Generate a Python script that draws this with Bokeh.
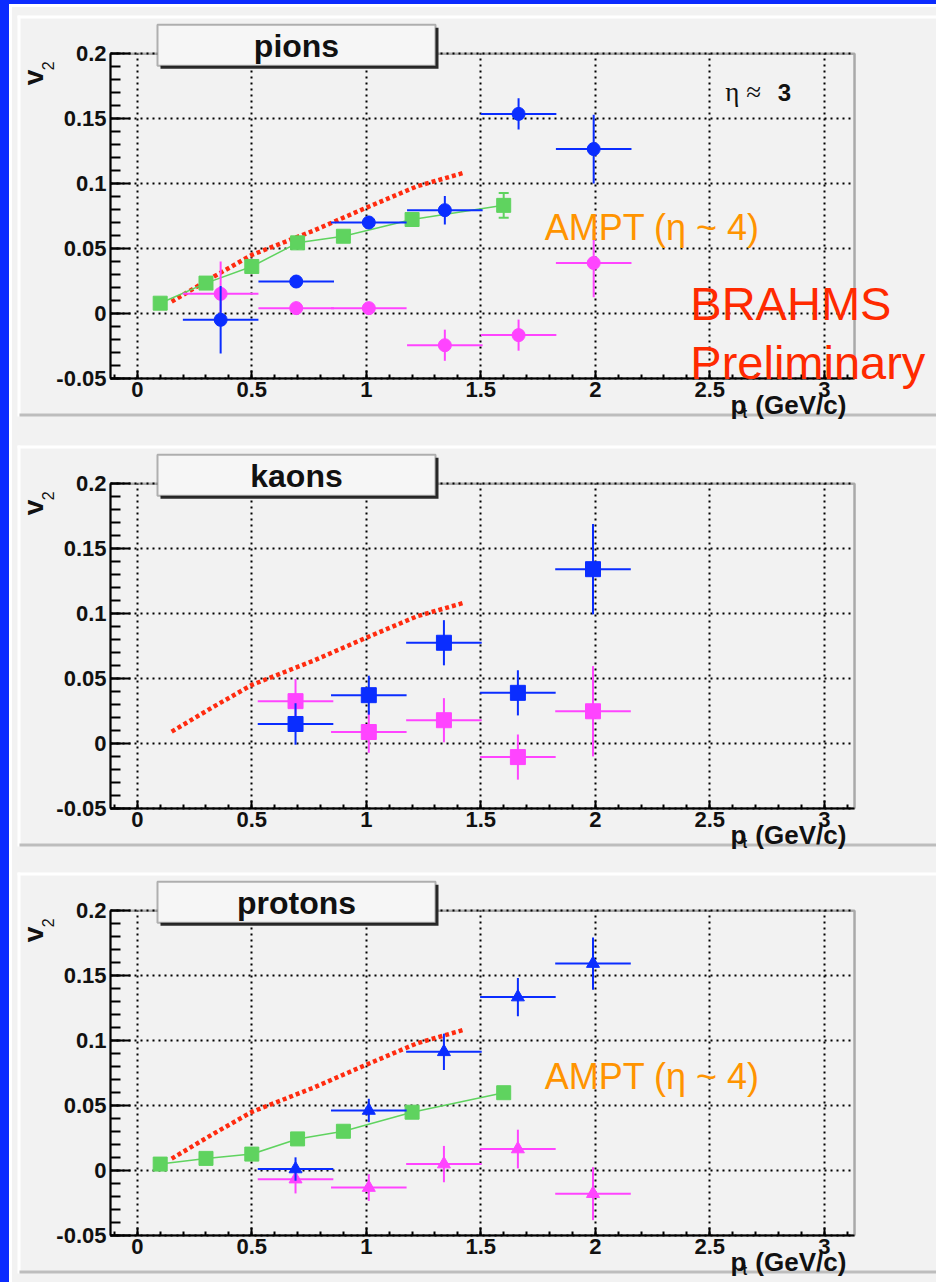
import math
import numpy as np
from bokeh.plotting import figure
from bokeh.layouts import column
from bokeh.models import Range1d, FixedTicker, Label, BoxAnnotation
from bokeh.embed import file_html
from bokeh.resources import INLINE

# ---------------------------------------------------------------- data
# transverse momentum (GeV/c) of the measured bins
pions_pt = [0.364, 0.694, 1.011, 1.343, 1.665, 1.993]
pions_v2_a = [-0.005, 0.0245, 0.070, 0.0795, 0.1537, 0.1266]
pions_err_a = [0.026, 0.005, 0.005, 0.011, 0.012, 0.0265]
pions_v2_b = [0.015, 0.004, 0.004, -0.0246, -0.0168, 0.0388]
pions_err_b = [0.025, 0.005, 0.004, 0.012, 0.012, 0.0264]

kaons_pt = [0.691, 1.011, 1.339, 1.662, 1.990]
kaons_v2_a = [0.0149, 0.0371, 0.0775, 0.0389, 0.1342]
kaons_err_a = [0.016, 0.015, 0.0174, 0.0174, 0.0348]
kaons_v2_b = [0.0325, 0.0087, 0.0178, -0.0106, 0.0247]
kaons_err_b = [0.017, 0.016, 0.017, 0.0174, 0.0348]

protons_pt = [0.691, 1.011, 1.339, 1.662, 1.990]
protons_v2_a = [0.001, 0.0461, 0.0913, 0.1335, 0.1593]
protons_err_a = [0.009, 0.009, 0.014, 0.0148, 0.0202]
protons_v2_b = [-0.0068, -0.0133, 0.0048, 0.0164, -0.018]
protons_err_b = [0.011, 0.0103, 0.014, 0.0149, 0.0204]

pt_half_width = 0.165

# AMPT model points
ampt_pt = [0.1, 0.3, 0.5, 0.7, 0.9, 1.2, 1.6]
ampt_pions_v2 = [0.0078, 0.0233, 0.0361, 0.0543, 0.0594, 0.0723, 0.0832]
ampt_pions_err = [0, 0, 0, 0, 0, 0, 0.0095]
ampt_protons_v2 = [0.0048, 0.0092, 0.0125, 0.0242, 0.0301, 0.0448, 0.0598]

# reference curve (same in every panel)
curve_pt = [0.15, 0.335, 0.5, 0.771, 1.0, 1.223, 1.43]
curve_v2 = [0.009, 0.0284, 0.045, 0.0638, 0.0814, 0.098, 0.1085]

x_ticks = [0, 0.5, 1, 1.5, 2, 2.5, 3]
x_tick_labels = ["0", "0.5", "1", "1.5", "2", "2.5", "3"]
y_ticks = [-0.05, 0, 0.05, 0.1, 0.15, 0.2]
y_tick_labels = ["-0.05", "0", "0.05", "0.1", "0.15", "0.2"]

# ---------------------------------------------------------------- style
PAGE_BLUE = "#0b2bff"
PAD = "#f2f2f2"
BEVEL_LIGHT = "#ffffff"
BEVEL_DARK = "#bdbdbd"
MK_BLUE = "#0a2dff"
MK_PINK = "#ff44ff"
MK_GREEN = "#5fd35f"
CURVE_RED = "#ff2b0f"
ORANGE = "#ff9400"
INK = "#111111"
FONT = "Liberation Sans"

# axis limits of the framed area
X_LO, X_HI = -0.117, 3.132
Y_LO, Y_HI = -0.05, 0.2

# each figure's frame covers its whole strip of the page; the framed
# axis box and the bevelled pad are placed inside it
FIG_W = 924
PX_PER_X = 229.0
PX_PER_Y = 1297.6
BOX_LEFT_PX = 98.0          # canvas left -> axis box left
PAD_LEFT_PX = 5.0           # canvas left -> pad bevel
PAD_H = 401                 # pad height including bevels
BOX_TOP_IN_PAD = 38.3       # pad top -> axis box top


def dx(px):
    return px / PX_PER_X


def dy(px):
    return px / PX_PER_Y


def styled_panel(height, pad_top):
    vx0 = X_LO - dx(BOX_LEFT_PX)
    vx1 = vx0 + dx(FIG_W)
    vy1 = Y_HI + dy(pad_top + BOX_TOP_IN_PAD)
    vy0 = vy1 - dy(height)
    p = figure(width=FIG_W, height=height,
               x_range=Range1d(vx0, vx1), y_range=Range1d(vy0, vy1),
               output_backend="svg", toolbar_location=None,
               min_border=0, min_border_left=0, min_border_right=0,
               min_border_top=0, min_border_bottom=0,
               background_fill_color=PAD, border_fill_color=PAD,
               outline_line_color=None)

    # bevelled pad edges
    top = vy1 - dy(pad_top)
    bottom = top - dy(PAD_H)
    left = vx0 + dx(PAD_LEFT_PX)
    for l, r, t, b, c in ((left, vx1, top, top - dy(3), BEVEL_LIGHT),
                          (left, left + dx(3), top, bottom, BEVEL_LIGHT),
                          (left + dx(2), vx1, bottom + dy(3), bottom, BEVEL_DARK)):
        p.add_layout(BoxAnnotation(left=l, right=r, top=t, bottom=b, fill_color=c,
                                   fill_alpha=1, line_color=None, level="underlay"))

    xa, ya = p.xaxis[0], p.yaxis[0]
    xa.fixed_location = Y_LO
    ya.fixed_location = X_LO
    xa.bounds = (X_LO, X_HI)
    ya.bounds = (Y_LO, Y_HI)
    xa.ticker = FixedTicker(ticks=x_ticks,
                            minor_ticks=[round(-0.1 + 0.1 * i, 2) for i in range(33)])
    ya.ticker = FixedTicker(ticks=y_ticks,
                            minor_ticks=[round(-0.05 + 0.01 * i, 2) for i in range(26)])
    xa.major_label_overrides = dict(zip(x_ticks, x_tick_labels))
    ya.major_label_overrides = dict(zip(y_ticks, y_tick_labels))
    for ax in (xa, ya):
        ax.axis_line_color = "black"
        ax.axis_line_width = 2
        ax.major_tick_line_color = "black"
        ax.major_tick_line_width = 2
        ax.minor_tick_line_color = "black"
        ax.minor_tick_line_width = 2
        ax.major_tick_out = 0
        ax.minor_tick_out = 0
        ax.major_label_text_font = FONT
        ax.major_label_text_font_style = "bold"
        ax.major_label_text_font_size = "22px"
        ax.major_label_text_color = INK
        ax.major_label_standoff = 4
    xa.major_tick_in = 8
    xa.minor_tick_in = 4
    ya.major_tick_in = 20
    ya.minor_tick_in = 10
    xg, yg = p.xgrid[0], p.ygrid[0]
    xg.ticker = FixedTicker(ticks=x_ticks)
    yg.ticker = FixedTicker(ticks=y_ticks)
    xg.bounds = (X_LO, X_HI)
    xg.cross_bounds = (Y_LO, Y_HI)
    yg.bounds = (Y_LO, Y_HI)
    yg.cross_bounds = (X_LO, X_HI)
    for g in (xg, yg):
        g.grid_line_color = "black"
        g.grid_line_width = 2
        g.grid_line_dash = "2 4"
    # frame of the axis box
    p.add_layout(BoxAnnotation(left=X_LO, right=X_HI, bottom=Y_LO, top=Y_HI,
                               fill_alpha=0, line_color="black", line_width=2.5,
                               level="underlay"))
    return p


def axis_titles(p):
    p.add_layout(Label(x=X_LO - dx(77), y=Y_HI - dy(31.5), text="v", angle=math.pi / 2,
                       text_font=FONT, text_font_style="bold", text_font_size="28px",
                       text_baseline="middle", text_align="left", text_color=INK))
    p.add_layout(Label(x=X_LO - dx(62.5), y=Y_HI - dy(16.5), text="2", angle=math.pi / 2,
                       text_font=FONT, text_font_size="16px",
                       text_baseline="middle", text_align="left", text_color=INK))
    base = Y_LO - dy(27)
    p.add_layout(Label(x=2.590, y=base, text="p",
                       text_font=FONT, text_font_style="bold", text_font_size="26px",
                       text_baseline="alphabetic", text_color=INK))
    p.add_layout(Label(x=2.643, y=base - dy(8), text="t",
                       text_font=FONT, text_font_style="bold", text_font_size="14px",
                       text_baseline="alphabetic", text_color=INK))
    p.add_layout(Label(x=2.699, y=base, text="(GeV/c)",
                       text_font=FONT, text_font_style="bold", text_font_size="26px",
                       text_baseline="alphabetic", text_color=INK))


def title_box(p, text):
    left, right = X_LO + dx(47), X_LO + dx(325)
    top, bottom = Y_HI + dy(29), Y_HI - dy(12)
    p.add_layout(BoxAnnotation(left=left + dx(3), right=right + dx(3),
                               top=top - dy(3), bottom=bottom - dy(3),
                               fill_color="#2a2a2a", fill_alpha=1, line_color=None))
    p.add_layout(BoxAnnotation(left=left, right=right, top=top, bottom=bottom,
                               fill_color="#f6f6f6", fill_alpha=1,
                               line_color=INK, line_width=2))
    p.add_layout(Label(x=(left + right) / 2, y=(top + bottom) / 2 - dy(1), text=text,
                       text_font=FONT, text_font_style="bold", text_font_size="32px",
                       text_align="center", text_baseline="middle", text_color=INK))


def measured(p, pt, v2a, erra, v2b, errb, marker, size):
    pt = np.asarray(pt)
    for v2, err, col in ((v2b, errb, MK_PINK), (v2a, erra, MK_BLUE)):
        v2, err = np.asarray(v2), np.asarray(err)
        p.segment(pt - pt_half_width, v2, pt + pt_half_width, v2, line_color=col, line_width=2)
        p.segment(pt, v2 - err, pt, v2 + err, line_color=col, line_width=2)
        p.scatter(pt, v2, marker=marker, size=size, fill_color=col, line_color=col)


def reference_curve(p):
    p.line(curve_pt, curve_v2, line_color=CURVE_RED, line_width=4.5, line_dash="4 3")


def ampt(p, v2, err=None):
    p.line(ampt_pt, v2, line_color=MK_GREEN, line_width=1.5)
    if err is not None:
        x, y, e = np.asarray(ampt_pt), np.asarray(v2), np.asarray(err)
        m = e > 0
        p.segment(x[m], y[m] - e[m], x[m], y[m] + e[m], line_color=MK_GREEN, line_width=2)
        for s in (-1, 1):
            p.segment(x[m] - dx(5), y[m] + s * e[m], x[m] + dx(5), y[m] + s * e[m],
                      line_color=MK_GREEN, line_width=2)
    p.scatter(ampt_pt, v2, marker="square", size=14, fill_color=MK_GREEN, line_color=MK_GREEN)


def ampt_label(p, y):
    p.add_layout(Label(x=1.779, y=y, text="AMPT (η ~ 4)", text_font=FONT,
                       text_font_size="36px", text_color=ORANGE, text_baseline="alphabetic"))


# ---------------------------------------------------------------- pions
p1 = styled_panel(423, 8)
axis_titles(p1)
reference_curve(p1)
ampt(p1, ampt_pions_v2, ampt_pions_err)
measured(p1, pions_pt, pions_v2_a, pions_err_a, pions_v2_b, pions_err_b, "circle", 13)
ampt_label(p1, 0.0659)
p1.add_layout(Label(x=2.568, y=0.1702, text="η ≈", text_font="Liberation Serif",
                    text_font_size="27px", text_color=INK, text_baseline="alphabetic"))
p1.add_layout(Label(x=2.797, y=0.1702, text="3", text_font=FONT, text_font_style="bold",
                    text_font_size="24px", text_color=INK, text_baseline="alphabetic"))
p1.add_layout(Label(x=2.415, y=0.0074, text="BRAHMS", text_font=FONT,
                    text_font_size="47px", text_color="#ff2a00", text_baseline="alphabetic"))
p1.add_layout(Label(x=2.415, y=-0.0378, text="Preliminary", text_font=FONT,
                    text_font_size="47px", text_color="#ff2a00", text_baseline="alphabetic"))
title_box(p1, "pions")

# ---------------------------------------------------------------- kaons
p2 = styled_panel(428, 15)
axis_titles(p2)
reference_curve(p2)
measured(p2, kaons_pt, kaons_v2_a, kaons_err_a, kaons_v2_b, kaons_err_b, "square", 15)
title_box(p2, "kaons")

# ---------------------------------------------------------------- protons
p3 = styled_panel(424, 14)
axis_titles(p3)
reference_curve(p3)
ampt(p3, ampt_protons_v2)
measured(p3, protons_pt, protons_v2_a, protons_err_a, protons_v2_b, protons_err_b, "triangle", 13)
ampt_label(p3, 0.072)
title_box(p3, "protons")

canvas = column(p1, p2, p3, margin=(4, 0, 0, 9),
                styles={"background-color": PAD,
                        "border-top": "3px solid #ffffff",
                        "border-left": "3px solid #ffffff"})
page = column(canvas, styles={"background-color": PAGE_BLUE})

open("out.html", "w").write(file_html(page, INLINE))
